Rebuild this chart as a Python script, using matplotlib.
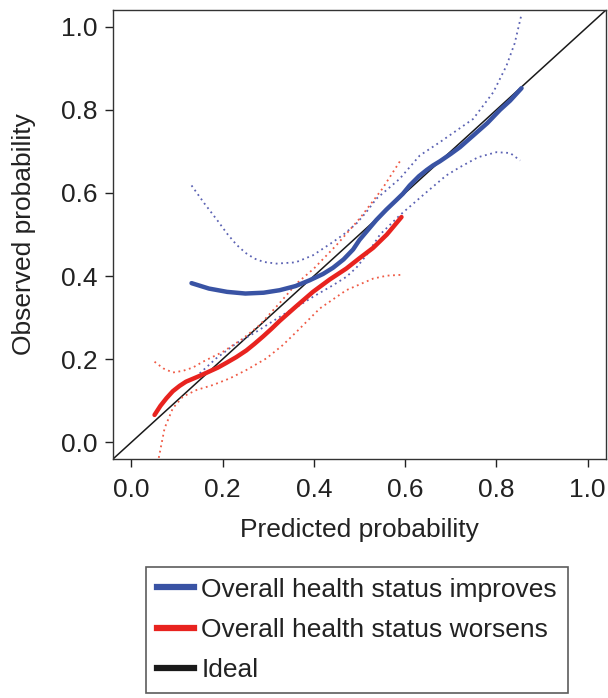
import numpy as np
import matplotlib.pyplot as plt
from matplotlib.lines import Line2D

plt.rcParams['font.family'] = ['Liberation Sans', 'DejaVu Sans']

# calibration curve: overall health status improves
imp_x = [0.132, 0.17, 0.21, 0.25, 0.29, 0.325, 0.36, 0.391, 0.42, 0.442, 0.465, 0.486,
         0.50, 0.52, 0.537, 0.559, 0.58, 0.595, 0.61, 0.63, 0.647, 0.661, 0.676, 0.70,
         0.72, 0.749, 0.78, 0.808, 0.83, 0.855]
imp_y = [0.383, 0.370, 0.362, 0.358, 0.360, 0.366, 0.376, 0.390, 0.405, 0.420, 0.440, 0.464,
         0.487, 0.513, 0.535, 0.560, 0.582, 0.598, 0.618, 0.640, 0.655, 0.666, 0.676, 0.694,
         0.710, 0.738, 0.768, 0.800, 0.822, 0.852]
imp_hi_x = [0.132, 0.16, 0.19, 0.21, 0.23, 0.25, 0.27, 0.29, 0.318, 0.36, 0.398, 0.442, 0.465,
            0.493, 0.515, 0.537, 0.588, 0.632, 0.676, 0.749, 0.793, 0.822, 0.84, 0.855]
imp_hi_y = [0.618, 0.575, 0.532, 0.502, 0.476, 0.456, 0.442, 0.434, 0.430, 0.433, 0.450, 0.482,
            0.500, 0.526, 0.554, 0.586, 0.634, 0.690, 0.722, 0.778, 0.842, 0.906, 0.96, 1.03]
imp_lo_x = [0.150, 0.186, 0.23, 0.274, 0.311, 0.340, 0.369, 0.398, 0.442, 0.471, 0.493, 0.515,
            0.545, 0.588, 0.647, 0.69, 0.72, 0.76, 0.80, 0.83, 0.852]
imp_lo_y = [0.166, 0.202, 0.238, 0.266, 0.292, 0.312, 0.33, 0.35, 0.378, 0.398, 0.42, 0.45,
            0.50, 0.546, 0.602, 0.642, 0.662, 0.686, 0.698, 0.696, 0.678]

# calibration curve: overall health status worsens
wor_x = [0.051, 0.064, 0.077, 0.091, 0.106, 0.12, 0.135, 0.15, 0.168, 0.19, 0.208, 0.23,
         0.252, 0.27, 0.289, 0.307, 0.325, 0.36, 0.398, 0.435, 0.471, 0.50, 0.53, 0.56, 0.592]
wor_y = [0.066, 0.088, 0.106, 0.123, 0.136, 0.146, 0.153, 0.160, 0.169, 0.180, 0.191, 0.205,
         0.221, 0.237, 0.255, 0.273, 0.292, 0.326, 0.362, 0.392, 0.418, 0.443, 0.468, 0.500, 0.542]
wor_hi_x = [0.051, 0.07, 0.091, 0.113, 0.135, 0.157, 0.201, 0.245, 0.281, 0.325, 0.362, 0.40,
            0.45, 0.50, 0.55, 0.592]
wor_hi_y = [0.194, 0.178, 0.168, 0.172, 0.180, 0.194, 0.218, 0.250, 0.282, 0.335, 0.382, 0.418,
            0.475, 0.538, 0.610, 0.682]
wor_lo_x = [0.058, 0.073, 0.091, 0.113, 0.143, 0.179, 0.216, 0.252, 0.296, 0.332, 0.362, 0.413,
            0.471, 0.53, 0.56, 0.592]
wor_lo_y = [-0.05, 0.034, 0.082, 0.110, 0.126, 0.138, 0.154, 0.174, 0.202, 0.234, 0.266, 0.322,
            0.366, 0.394, 0.401, 0.403]

ticks = [0.0, 0.2, 0.4, 0.6, 0.8, 1.0]
labels = ['Overall health status improves', 'Overall health status worsens', 'Ideal']

blue = '#3953a4'
red = '#e8231f'
blue_ci = '#5b62b3'
red_ci = '#ef5a45'

fig = plt.figure(figsize=(6.08, 6.98), dpi=100)
ax = fig.add_axes([113/608, 1 - 459/698, 493/608, 449/698])

# ideal diagonal, then confidence limits (dotted) and the smoothed curves
ax.axline((0, 0), slope=1, color='#1a1a1a', lw=1.1, zorder=1)
ax.plot(imp_hi_x, imp_hi_y, color=blue_ci, lw=1.3, ls=(0, (1, 2)))
ax.plot(imp_lo_x, imp_lo_y, color=blue_ci, lw=1.3, ls=(0, (1, 2)))
ax.plot(wor_hi_x, wor_hi_y, color=red_ci, lw=1.3, ls=(0, (1, 2)))
ax.plot(wor_lo_x, wor_lo_y, color=red_ci, lw=1.3, ls=(0, (1, 2)))
ax.plot(imp_x, imp_y, color=blue, lw=3.2, solid_capstyle='round')
ax.plot(wor_x, wor_y, color=red, lw=3.2, solid_capstyle='round')

ax.set_xlim(-0.04, 1.04)
ax.set_ylim(-0.04, 1.04)
ax.set_xticks(ticks)
ax.set_yticks(ticks)
ax.set_xticklabels([f'{t:.1f}' for t in ticks])
ax.set_yticklabels([f'{t:.1f}' for t in ticks])
ax.tick_params(labelsize=19, length=6, width=1, color='#222222', labelcolor='#222222')
ax.tick_params(axis='x', pad=8)
ax.tick_params(axis='y', pad=5)
for s in ax.spines.values():
    s.set_color('#333333')
    s.set_linewidth(1)

ax.set_xlabel('Predicted probability', fontsize=19, color='#222222', labelpad=11)
ax.set_ylabel('Observed probability', fontsize=19, color='#222222', labelpad=18)

handles = [Line2D([], [], color=blue, lw=4.5),
           Line2D([], [], color=red, lw=4.5),
           Line2D([], [], color='#1a1a1a', lw=4.5)]
leg = fig.legend(handles, labels, loc='upper left', bbox_to_anchor=(146/608, 1 - 567/698),
                 fontsize=19, frameon=True, fancybox=False, edgecolor='#333333',
                 borderaxespad=0, borderpad=0.4, handlelength=1.4, handletextpad=0.3,
                 labelspacing=0.62, labelcolor='#222222')
leg.get_frame().set_linewidth(1.2)

fig.savefig('out.png', dpi=100)
